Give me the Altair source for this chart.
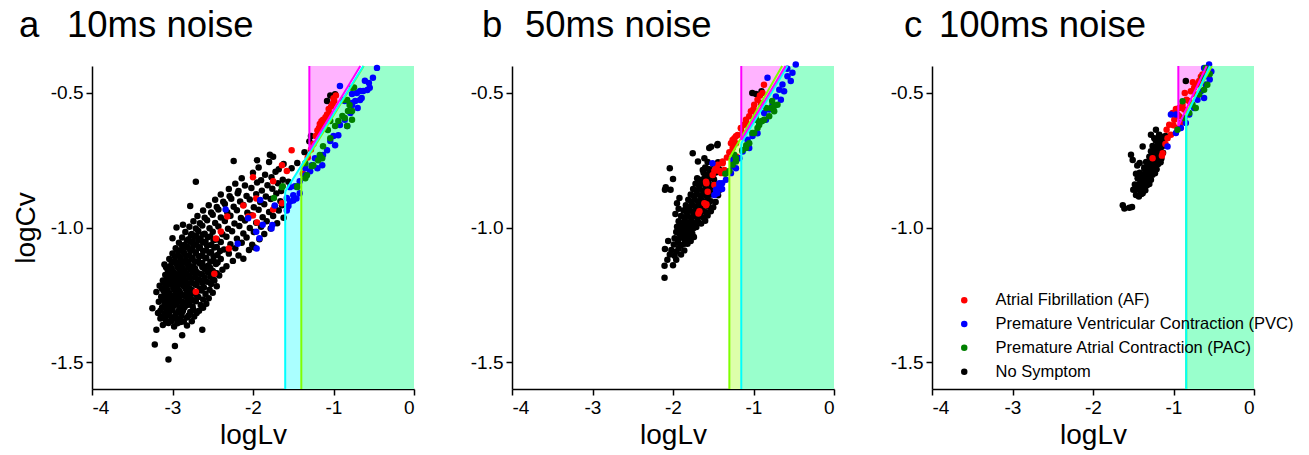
import altair as alt
import pandas as pd

FONT = "Liberation Sans"

CATS = ["Atrial Fibrillation (AF)", "Premature Ventricular Contraction (PVC)",
        "Premature Atrial Contraction (PAC)", "No Symptom"]
CAT_COLORS = ["#ff0000", "#0000ff", "#008000", "#000000"]
CAT_SIZES = [42, 42, 42, 17]
DRAW_ORDER = ["No Symptom", "Atrial Fibrillation (AF)",
              "Premature Ventricular Contraction (PVC)", "Premature Atrial Contraction (PAC)"]

PANEL_LETTERS = ["a", "b", "c"]
PANEL_NAMES = ["10ms noise", "50ms noise", "100ms noise"]
LETTER_DX = [-73, -30, -28]
NAME_DX = [-25, 13, 7]

X_DOMAIN = [-4, 0]
Y_DOMAIN = [-1.6, -0.4]
X_TICKS = [-4, -3, -2, -1, 0]
Y_TICKS = [-1.5, -1.0, -0.5]

# decision boundaries: threshold on logLv, logCv at threshold, slope of diagonal
CYAN_X = [-1.60, -1.152, -0.842]
CYAN_Y = [-0.866, -0.687, -0.586]
CYAN_S = [0.48, 0.50, 0.63]
LIME_X = [-1.40, -1.30, -0.842]
LIME_Y = [-0.780, -0.743, -0.575]
LIME_S = [0.49, 0.523, 0.55]
MAG_X = [-1.30, -1.152, -0.94]
MAG_Y = [-0.713, -0.675, -0.623]
MAG_S = [0.494, 0.50, 0.634]

# ---------------- panel a: 10 ms noise ----------------
A_NS = [
    (-3.12,-1.362),(-3.05,-1.355),(-2.98,-1.368),(-2.9,-1.351),(-2.82,-1.364),
    (-3.15,-1.338),(-3.08,-1.346),(-3.01,-1.333),(-2.93,-1.341),(-2.76,-1.348),
    (-3.18,-1.318),(-3.1,-1.326),(-3.035,-1.312),(-2.96,-1.322),(-2.88,-1.315),(-2.8,-1.327),(-2.7,-1.318),
    (-3.13,-1.297),(-3.065,-1.305),(-2.99,-1.292),(-2.915,-1.302),(-2.85,-1.296),(-2.74,-1.306),(-2.62,-1.298),
    (-3.17,-1.276),(-3.09,-1.284),(-3.02,-1.273),(-2.95,-1.282),(-2.87,-1.277),(-2.79,-1.286),(-2.71,-1.274),(-2.58,-1.283),
    (-3.14,-1.257),(-3.07,-1.264),(-3.0,-1.254),(-2.925,-1.262),(-2.84,-1.255),(-2.77,-1.266),(-2.68,-1.258),(-2.55,-1.263),
    (-3.11,-1.236),(-3.04,-1.244),(-2.97,-1.233),(-2.9,-1.243),(-2.82,-1.237),(-2.73,-1.245),(-2.64,-1.234),(-2.5,-1.242),
    (-3.16,-1.216),(-3.08,-1.224),(-3.01,-1.213),(-2.94,-1.222),(-2.86,-1.217),(-2.79,-1.226),(-2.7,-1.214),(-2.61,-1.223),(-2.45,-1.218),
    (-3.12,-1.197),(-3.05,-1.204),(-2.98,-1.193),(-2.91,-1.203),(-2.84,-1.196),(-2.76,-1.205),(-2.67,-1.194),(-2.57,-1.202),(-2.48,-1.197),
    (-3.09,-1.176),(-3.02,-1.184),(-2.95,-1.174),(-2.88,-1.183),(-2.8,-1.177),(-2.72,-1.185),(-2.63,-1.175),(-2.53,-1.183),(-2.42,-1.178),
    (-3.06,-1.157),(-2.99,-1.164),(-2.92,-1.153),(-2.85,-1.163),(-2.78,-1.156),(-2.7,-1.165),(-2.6,-1.154),(-2.5,-1.162),(-2.38,-1.157),
    (-3.1,-1.137),(-3.03,-1.144),(-2.96,-1.133),(-2.89,-1.143),(-2.82,-1.136),(-2.74,-1.145),(-2.66,-1.134),(-2.56,-1.142),(-2.46,-1.136),(-2.33,-1.144),
    (-3.04,-1.117),(-2.97,-1.124),(-2.9,-1.113),(-2.83,-1.123),(-2.76,-1.116),(-2.68,-1.125),(-2.59,-1.114),(-2.49,-1.122),(-2.4,-1.117),(-2.25,-1.124),(-2.12,-1.116),
    (-3.0,-1.097),(-2.93,-1.104),(-2.86,-1.093),(-2.79,-1.103),(-2.71,-1.096),(-2.63,-1.105),(-2.54,-1.094),(-2.44,-1.102),(-2.3,-1.097),(-2.18,-1.104),
    (-2.96,-1.077),(-2.89,-1.084),(-2.82,-1.073),(-2.75,-1.083),(-2.67,-1.076),(-2.58,-1.085),(-2.48,-1.074),(-2.36,-1.082),(-2.22,-1.077),(-2.05,-1.084),(-1.98,-1.074),
    (-2.92,-1.057),(-2.85,-1.064),(-2.78,-1.053),(-2.7,-1.063),(-2.62,-1.056),(-2.52,-1.065),(-2.4,-1.054),(-2.28,-1.062),(-2.14,-1.057),(-2.01,-1.064),
    (-2.88,-1.037),(-2.8,-1.044),(-2.73,-1.033),(-2.65,-1.043),(-2.56,-1.036),(-2.45,-1.045),(-2.33,-1.034),(-2.2,-1.042),(-2.08,-1.037),(-1.92,-1.044),
    (-2.84,-1.017),(-2.76,-1.024),(-2.68,-1.013),(-2.6,-1.023),(-2.5,-1.016),(-2.38,-1.025),(-2.26,-1.014),(-2.12,-1.022),(-1.99,-1.017),(-1.86,-1.024),
    (-2.79,-0.997),(-2.71,-1.004),(-2.63,-0.993),(-2.54,-1.003),(-2.43,-0.996),(-2.31,-1.005),(-2.17,-0.994),(-2.04,-1.002),(-1.9,-0.997),(-1.78,-1.004),
    (-2.74,-0.977),(-2.66,-0.984),(-2.57,-0.973),(-2.47,-0.983),(-2.35,-0.976),(-2.23,-0.985),(-2.1,-0.974),(-1.96,-0.982),(-1.83,-0.977),(-1.7,-0.984),
    (-2.69,-0.957),(-2.6,-0.964),(-2.5,-0.953),(-2.4,-0.963),(-2.28,-0.956),(-2.15,-0.965),(-2.02,-0.954),(-1.88,-0.962),(-1.75,-0.957),(-1.62,-0.964),
    (-2.62,-0.937),(-2.52,-0.944),(-2.43,-0.933),(-2.32,-0.943),(-2.2,-0.936),(-2.07,-0.945),(-1.93,-0.934),(-1.8,-0.942),(-1.68,-0.937),
    (-2.55,-0.917),(-2.45,-0.924),(-2.35,-0.913),(-2.24,-0.923),(-2.12,-0.916),(-1.99,-0.925),(-1.86,-0.914),(-1.73,-0.922),(-1.64,-0.917),
    (-2.47,-0.897),(-2.37,-0.904),(-2.27,-0.893),(-2.16,-0.903),(-2.04,-0.896),(-1.91,-0.905),(-1.78,-0.894),(-1.66,-0.902),
    (-2.4,-0.877),(-2.29,-0.884),(-2.19,-0.873),(-2.08,-0.883),(-1.96,-0.876),(-1.84,-0.885),(-1.71,-0.874),
    (-2.3,-0.857),(-2.18,-0.864),(-2.02,-0.853),(-1.89,-0.863),(-1.76,-0.856),(-1.65,-0.864),
    (-2.22,-0.837),(-2.1,-0.844),(-1.95,-0.833),(-1.82,-0.843),(-1.69,-0.836),
    (-2.14,-0.817),(-1.9,-0.824),(-1.77,-0.813),(-1.63,-0.823),
    (-2.0,-0.797),(-1.85,-0.804),(-1.72,-0.793),
    (-1.93,-0.777),(-1.68,-0.784),(-1.8,-0.757),(-1.62,-0.764),(-1.75,-0.737),
    (-3.22,-1.435),(-3.05,-1.49),(-2.97,-1.44),(-2.88,-1.40),(-2.63,-1.38),(-3.2,-1.38),
    (-2.71,-0.83),(-2.24,-0.753),(-2.78,-0.92),(-2.87,-0.99),(-1.79,-0.73),(-1.95,-0.75),
    (-1.08,-0.53),(-1.04,-0.51),(-0.98,-0.505),(-1.28,-0.66),(-1.3,-0.68),(-1.36,-0.72),
    (-1.45,-0.76),(-1.52,-0.78),(-1.56,-0.83),(-3.25,-1.3),(-3.2,-1.24),(-3.0,-1.04),(-2.95,-1.0),
    (-3.08,-1.352),(-3.01,-1.347),(-2.94,-1.356),(-2.86,-1.349),
    (-3.13,-1.331),(-3.05,-1.327),(-2.97,-1.336),(-2.89,-1.329),(-2.82,-1.334),(-2.73,-1.331),
    (-3.15,-1.309),(-3.08,-1.314),(-3.0,-1.306),(-2.93,-1.313),(-2.87,-1.308),(-2.78,-1.314),(-2.67,-1.309),
    (-3.1,-1.289),(-3.04,-1.293),(-2.97,-1.287),(-2.89,-1.294),(-2.82,-1.288),(-2.75,-1.293),(-2.65,-1.288),
    (-3.12,-1.268),(-3.05,-1.272),(-2.98,-1.266),(-2.9,-1.273),(-2.81,-1.268),(-2.73,-1.271),(-2.62,-1.267),
    (-3.09,-1.248),(-3.02,-1.253),(-2.95,-1.246),(-2.87,-1.252),(-2.78,-1.249),(-2.7,-1.252),(-2.59,-1.247),
    (-3.13,-1.228),(-3.06,-1.232),(-2.99,-1.226),(-2.92,-1.233),(-2.84,-1.227),(-2.76,-1.232),(-2.66,-1.228),(-2.54,-1.231),
    (-3.1,-1.207),(-3.03,-1.211),(-2.96,-1.206),(-2.88,-1.212),(-2.81,-1.207),(-2.72,-1.211),(-2.63,-1.206),(-2.52,-1.21),
    (-3.07,-1.188),(-3.0,-1.192),(-2.93,-1.186),(-2.86,-1.193),(-2.78,-1.187),(-2.69,-1.192),(-2.6,-1.187),(-2.5,-1.19),
    (-3.04,-1.168),(-2.97,-1.172),(-2.9,-1.166),(-2.83,-1.173),(-2.75,-1.167),(-2.66,-1.172),(-2.56,-1.167),(-2.45,-1.17),
    (-3.08,-1.148),(-3.01,-1.152),(-2.94,-1.146),(-2.87,-1.153),(-2.8,-1.147),(-2.72,-1.152),(-2.63,-1.147),(-2.53,-1.15),
    (-3.01,-1.128),(-2.94,-1.132),(-2.87,-1.126),(-2.8,-1.133),(-2.72,-1.127),(-2.63,-1.132),(-2.53,-1.127),(-2.44,-1.13),
    (-2.97,-1.108),(-2.9,-1.112),(-2.83,-1.106),(-2.75,-1.113),(-2.67,-1.107),(-2.58,-1.112),(-2.49,-1.107),
    (-2.93,-1.088),(-2.86,-1.092),(-2.78,-1.086),(-2.71,-1.093),(-2.62,-1.087),(-2.52,-1.092),(-2.41,-1.087),
    (-2.88,-1.068),(-2.81,-1.072),(-2.74,-1.066),(-2.66,-1.073),(-2.57,-1.067),(-2.45,-1.072),
    (-2.82,-1.048),(-2.75,-1.052),(-2.68,-1.046),(-2.59,-1.053),(-2.49,-1.047),
    (-2.77,-1.028),(-2.7,-1.032),(-2.62,-1.026),(-2.53,-1.033),
]
A_AF = [
    (-2.0,-0.813),(-1.75,-0.828),(-1.64,-0.769),(-1.52,-0.713),(-1.96,-0.892),(-2.12,-0.918),
    (-2.32,-0.959),(-2.06,-0.959),(-2.0,-0.955),(-1.95,-0.981),(-2.40,-1.015),(-2.46,-1.041),
    (-2.30,-1.078),(-2.48,-1.172),(-2.71,-1.239),(-1.75,-0.933),(-1.64,-0.91),(-1.38,-0.80),
    (-1.32,-0.74),(-1.58,-0.79),
    (-1.22,-0.66),(-1.20,-0.64),(-1.18,-0.63),(-1.17,-0.615),(-1.15,-0.605),(-1.13,-0.60),
    (-1.12,-0.62),(-1.10,-0.59),(-1.08,-0.58),(-1.06,-0.56),(-1.05,-0.575),(-1.03,-0.55),
    (-1.01,-0.54),(-1.0,-0.52),(-1.15,-0.63),(-1.19,-0.65),(-1.10,-0.61),(-1.07,-0.595),
    (-0.97,-0.51),(-0.99,-0.53),(-1.25,-0.69),(-1.28,-0.71),
]
A_PVC = [
    (-0.92,-0.474),(-0.77,-0.504),(-0.73,-0.53),(-0.67,-0.493),(-0.61,-0.455),(-0.56,-0.463),
    (-0.58,-0.489),(-0.65,-0.519),(-0.46,-0.407),(-0.70,-0.556),(-0.79,-0.575),(-0.77,-0.537),
    (-0.86,-0.60),(-0.83,-0.623),(-0.92,-0.619),(-0.94,-0.657),(-1.0,-0.66),(-1.04,-0.679),
    (-0.98,-0.694),(-1.08,-0.713),(-1.13,-0.731),(-1.17,-0.743),(-1.23,-0.743),(-1.27,-0.769),
    (-1.29,-0.791),(-1.35,-0.806),(-1.42,-0.828),(-1.48,-0.847),(-1.50,-0.88),(-1.42,-0.873),
    (-1.54,-0.903),(-1.58,-0.937),(-1.35,-0.78),(-1.20,-0.78),(-1.14,-0.769),(-0.86,-0.53),
    (-0.51,-0.444),(-0.55,-0.481),(-0.63,-0.493),(-0.71,-0.50),(-0.67,-0.526),(-0.77,-0.545),
    (-2.34,-0.933),(-2.19,-1.06),(-1.91,-0.898),(-1.96,-1.016),(-1.955,-1.078),(-1.92,-1.04),
    (-1.88,-0.99),(-1.77,-1.004),(-1.76,-0.991),(-2.06,-0.966),(-1.73,-0.918),(-1.58,-0.89),
    (-1.56,-0.92),(-1.50,-0.90),(-1.46,-0.892),(-1.54,-0.85),
]
A_PAC = [
    (-0.77,-0.481),(-0.88,-0.526),(-0.80,-0.545),(-0.82,-0.567),(-0.89,-0.586),(-0.94,-0.604),
    (-0.86,-0.593),(-0.98,-0.623),(-1.07,-0.638),(-1.04,-0.668),(-1.13,-0.698),(-1.17,-0.731),
    (-1.14,-0.743),(-1.25,-0.769),(-1.27,-0.772),(-1.35,-0.761),(-1.33,-0.806),(-1.45,-0.847),
    (-1.63,-0.847),(-1.04,-0.604),(-0.77,-0.60),(-0.83,-0.623),(-1.74,-0.89),(-1.64,-0.85),
    (-1.45,-0.85),(-1.35,-0.817),(-1.19,-0.75),(-0.745,-0.48),(-0.83,-0.526),(-0.77,-0.567),
]

# ---------------- panel b: 50 ms noise ----------------
B_NS = [
    (-2.04,-1.10),(-2.07,-1.12),(-1.98,-1.105),
    (-2.02,-1.084),(-1.96,-1.09),(-1.93,-1.078),
    (-2.06,-1.05),(-1.99,-1.063),(-1.94,-1.057),(-1.9,-1.066),(-1.86,-1.06),
    (-1.98,-1.04),(-1.93,-1.044),(-1.89,-1.037),(-1.85,-1.045),(-1.81,-1.038),
    (-1.96,-1.017),(-1.92,-1.024),(-1.88,-1.016),(-1.84,-1.025),(-1.8,-1.018),(-1.76,-1.023),
    (-1.95,-0.997),(-1.91,-1.004),(-1.87,-0.996),(-1.83,-1.003),(-1.79,-0.995),(-1.75,-1.004),(-1.71,-0.998),
    (-1.93,-0.977),(-1.89,-0.984),(-1.85,-0.976),(-1.81,-0.983),(-1.77,-0.975),(-1.73,-0.984),(-1.69,-0.978),
    (-1.9,-0.957),(-1.86,-0.964),(-1.82,-0.956),(-1.78,-0.963),(-1.74,-0.955),(-1.7,-0.964),(-1.66,-0.958),(-1.62,-0.963),
    (-1.87,-0.937),(-1.83,-0.944),(-1.79,-0.936),(-1.75,-0.943),(-1.71,-0.935),(-1.67,-0.944),(-1.63,-0.938),(-1.59,-0.943),
    (-1.84,-0.917),(-1.8,-0.924),(-1.76,-0.916),(-1.72,-0.923),(-1.68,-0.915),(-1.64,-0.924),(-1.6,-0.918),(-1.56,-0.922),
    (-1.81,-0.897),(-1.77,-0.904),(-1.73,-0.896),(-1.69,-0.903),(-1.65,-0.895),(-1.61,-0.904),(-1.57,-0.898),(-1.53,-0.902),
    (-1.78,-0.877),(-1.74,-0.884),(-1.7,-0.876),(-1.66,-0.883),(-1.62,-0.875),(-1.58,-0.884),(-1.54,-0.878),
    (-1.75,-0.857),(-1.71,-0.864),(-1.67,-0.856),(-1.63,-0.863),(-1.59,-0.855),(-1.55,-0.864),(-1.51,-0.858),
    (-1.72,-0.837),(-1.68,-0.844),(-1.64,-0.836),(-1.6,-0.843),(-1.56,-0.835),(-1.52,-0.844),
    (-1.7,-0.817),(-1.65,-0.824),(-1.61,-0.816),(-1.57,-0.823),(-1.53,-0.815),(-1.49,-0.822),
    (-1.62,-0.797),(-1.58,-0.804),(-1.54,-0.796),(-1.5,-0.803),(-1.46,-0.795),
    (-1.6,-0.777),(-1.55,-0.784),(-1.47,-0.776),(-1.43,-0.783),
    (-1.57,-0.757),(-1.5,-0.764),(-1.44,-0.758),
    (-1.65,-0.985),(-1.6,-0.975),(-1.57,-0.955),(-1.53,-0.94),(-1.5,-0.925),(-1.47,-0.905),
    (-1.44,-0.88),(-1.42,-0.86),(-1.48,-0.87),(-1.45,-0.84),(-1.82,-1.06),(-1.78,-1.05),
    (-1.74,-1.035),(-1.86,-1.085),(-1.9,-1.1),
    (-2.105,-1.187),(-2.105,-1.142),(-2.1,-1.08),(-2.1,-0.86),(-2.09,-0.85),(-2.04,-0.78),
    (-2.03,-0.86),(-2.0,-0.82),(-1.755,-0.724),(-1.69,-0.755),(-1.527,-0.70),(-1.445,-0.69),
    (-1.63,-0.786),(-1.67,-0.823),(-1.92,-0.89),(-1.84,-0.93),(-1.93,-0.93),(-1.015,-0.50),
    (-0.90,-0.494),(-0.97,-0.504),(-1.55,-0.705),(-1.45,-0.694),(-1.61,-0.743),(-1.585,-0.78),
    (-2.0,-1.14),(-1.96,-1.12),(-1.97,-0.95),(-1.95,-0.91),
]
B_AF = [
    (-0.888,-0.50),(-0.95,-0.525),(-0.908,-0.537),(-0.991,-0.544),(-1.032,-0.568),(-0.97,-0.58),
    (-1.094,-0.60),(-1.053,-0.587),(-1.115,-0.618),(-1.156,-0.631),(-1.135,-0.649),
    (-1.197,-0.656),(-1.238,-0.668),(-1.28,-0.687),(-1.218,-0.687),(-1.259,-0.705),(-1.383,-0.761),
    (-1.466,-0.78),(-1.424,-0.79),(-1.507,-0.805),(-1.362,-0.786),(-1.486,-0.842),(-1.59,-0.83),
    (-1.569,-0.867),(-1.61,-0.91),(-1.672,-0.94),(-1.218,-0.736),(-1.486,-0.79),(-1.445,-0.767),
    (-1.383,-0.755),(-1.40,-0.798),(-1.26,-0.686),(-1.218,-0.661),(-1.156,-0.63),(-1.094,-0.608),
    (-1.59,-0.917),(-1.684,-0.948),(-1.585,-0.914),(-1.585,-0.836),(-1.46,-0.772),(-1.20,-0.74),
    (-1.26,-0.675),(-0.87,-0.47),(-0.92,-0.51),(-1.0,-0.56),(-1.3,-0.72),(-1.33,-0.74),
]
B_PVC = [
    (-0.475,-0.394),(-0.516,-0.425),(-0.578,-0.438),(-0.537,-0.456),(-0.64,-0.469),(-0.68,-0.488),
    (-0.62,-0.494),(-0.722,-0.513),(-0.66,-0.525),(-0.826,-0.444),(-0.764,-0.544),(-0.805,-0.562),
    (-0.867,-0.575),(-0.846,-0.60),(-0.929,-0.612),(-0.95,-0.65),(-1.012,-0.66),(-1.074,-0.674),
    (-1.053,-0.705),(-1.135,-0.718),(-1.176,-0.743),(-1.218,-0.78),(-1.259,-0.749),(-1.466,-0.873),
    (-1.424,-0.848),(-1.51,-0.761),(-1.466,-0.86),(-1.424,-0.836),(-1.486,-0.879),(-1.39,-0.857),
    (-1.342,-0.823),(-1.28,-0.798),(-1.26,-0.773),(-1.39,-0.836),(-1.45,-0.873),(-0.58,-0.41),
]
B_PAC = [
    (-0.702,-0.544),(-0.784,-0.556),(-0.743,-0.568),(-0.805,-0.587),(-0.867,-0.60),(-0.908,-0.606),
    (-0.95,-0.63),(-0.991,-0.649),(-1.053,-0.687),(-1.094,-0.705),(-1.259,-0.767),(-1.218,-0.743),
    (-0.768,-0.53),(-0.743,-0.549),(-0.842,-0.556),(-0.966,-0.60),(-0.892,-0.604),(-0.93,-0.619),
    (-1.015,-0.649),(-1.14,-0.713),(-1.09,-0.694),(-1.218,-0.755),(-1.24,-0.73),(-1.35,-0.80),
    (-1.30,-0.79),
]

# ---------------- panel c: 100 ms noise ----------------
C_NS = [
    (-1.466,-0.879),(-1.43,-0.885),(-1.40,-0.876),
    (-1.45,-0.857),(-1.41,-0.863),(-1.38,-0.856),(-1.35,-0.862),
    (-1.42,-0.837),(-1.39,-0.844),(-1.36,-0.836),(-1.33,-0.843),(-1.3,-0.838),
    (-1.44,-0.817),(-1.4,-0.823),(-1.37,-0.816),(-1.34,-0.824),(-1.31,-0.818),(-1.28,-0.823),
    (-1.42,-0.797),(-1.38,-0.804),(-1.35,-0.796),(-1.32,-0.803),(-1.29,-0.797),(-1.26,-0.804),(-1.23,-0.798),
    (-1.36,-0.777),(-1.33,-0.784),(-1.3,-0.776),(-1.27,-0.783),(-1.24,-0.777),(-1.21,-0.784),
    (-1.34,-0.757),(-1.31,-0.764),(-1.28,-0.756),(-1.25,-0.763),(-1.22,-0.757),(-1.19,-0.764),(-1.16,-0.758),
    (-1.3,-0.737),(-1.27,-0.744),(-1.24,-0.736),(-1.21,-0.743),(-1.18,-0.737),(-1.15,-0.744),
    (-1.28,-0.717),(-1.25,-0.724),(-1.22,-0.716),(-1.19,-0.723),(-1.16,-0.717),(-1.13,-0.722),
    (-1.26,-0.697),(-1.23,-0.704),(-1.2,-0.696),(-1.17,-0.703),(-1.14,-0.698),
    (-1.22,-0.677),(-1.19,-0.684),(-1.16,-0.676),(-1.12,-0.683),
    (-1.18,-0.657),(-1.14,-0.664),(-1.1,-0.66),
    (-1.63,-0.917),(-1.61,-0.929),(-1.548,-0.927),(-1.515,-0.924),(-1.528,-0.73),(-1.507,-0.749),
    (-1.383,-0.699),(-1.28,-0.655),(-1.218,-0.637),(-1.239,-0.668),(-1.177,-0.655),(-1.466,-0.80),
    (-1.445,-0.817),(-1.404,-0.848),(-1.383,-0.873),(-1.363,-0.78),(-0.847,-0.456),(-1.45,-0.77),
    (-1.42,-0.76),(-1.48,-0.84),(-1.5,-0.86),
]
C_AF = [
    (-1.26,-0.743),(-1.144,-0.733),(-1.135,-0.724),(-1.074,-0.668),(-1.032,-0.655),(-1.086,-0.637),
    (-1.053,-0.618),(-1.012,-0.575),(-0.929,-0.556),(-0.929,-0.587),(-0.95,-0.63),(-0.888,-0.544),
    (-0.838,-0.525),(-0.785,-0.494),(-0.743,-0.481),(-0.702,-0.469),(-0.681,-0.456),(-0.64,-0.432),
    (-0.723,-0.506),(-0.805,-0.531),(-0.867,-0.562),(-0.908,-0.612),(-0.99,-0.60),(-1.1,-0.69),
    (-0.97,-0.56),(-0.86,-0.50),(-0.76,-0.46),(-0.66,-0.44),(-0.6,-0.415),(-1.0,-0.62),(-0.95,-0.58),
]
C_PVC = [
    (-1.074,-0.699),(-1.032,-0.58),(-0.97,-0.58),(-0.743,-0.556),(-0.702,-0.525),(-0.60,-0.469),
    (-0.66,-0.494),(-0.578,-0.438),(-0.62,-0.407),(-0.558,-0.394),(-0.805,-0.58),(-0.847,-0.612),
    (-0.908,-0.63),(-0.97,-0.649),(-0.62,-0.519),(-0.53,-0.42),(-0.55,-0.45),
]
C_PAC = [
    (-0.888,-0.531),(-0.805,-0.575),(-0.764,-0.544),(-0.681,-0.506),(-0.62,-0.488),(-0.6,-0.407),
    (-0.95,-0.637),(-0.867,-0.593),(-0.64,-0.444),(-0.723,-0.556),(-0.58,-0.47),(-0.55,-0.43),
]

PANEL_POINTS = [
    {"Atrial Fibrillation (AF)": A_AF, "Premature Ventricular Contraction (PVC)": A_PVC,
     "Premature Atrial Contraction (PAC)": A_PAC, "No Symptom": A_NS},
    {"Atrial Fibrillation (AF)": B_AF, "Premature Ventricular Contraction (PVC)": B_PVC,
     "Premature Atrial Contraction (PAC)": B_PAC, "No Symptom": B_NS},
    {"Atrial Fibrillation (AF)": C_AF, "Premature Ventricular Contraction (PVC)": C_PVC,
     "Premature Atrial Contraction (PAC)": C_PAC, "No Symptom": C_NS},
]

CYAN_FILL = "#aaffff"
LIME_FILL = "#ddffaa"
MINT_FILL = "#99ffcc"
PINK_FILL = "#ffb3ff"
CYAN_LINE = "#00ffff"
LIME_LINE = "#80ff00"
MAG_LINE = "#ff00ff"

Y_BOT, Y_TOP = Y_DOMAIN
X_RIGHT = X_DOMAIN[1]

MINUS = "\u2212"
X_LABELS = "replace(format(datum.value, 'd'), '" + MINUS + "', '-')"
Y_LABELS = "replace(format(datum.value, '.1f'), '" + MINUS + "', '-')"


def top_x(t, y0, s):
    return t + (Y_TOP - y0) / s


def below_rows(t, y0, s):
    xt = top_x(t, y0, s)
    return [dict(x=t, y=Y_BOT, y2=y0), dict(x=xt, y=Y_BOT, y2=Y_TOP),
            dict(x=X_RIGHT, y=Y_BOT, y2=Y_TOP)]


def above_rows(t, y0, s):
    xt = top_x(t, y0, s)
    return [dict(x=t, y=y0, y2=Y_TOP), dict(x=xt, y=Y_TOP, y2=Y_TOP)]


LEG = alt.Legend(title=None, orient="none", legendX=864, legendY=226,
                 labelFont=FONT, labelFontSize=16.5, labelColor="black",
                 symbolType="circle", symbolStrokeWidth=0, symbolOpacity=1,
                 rowPadding=6.8, labelOffset=23, labelLimit=400)


def make_panel(i):
    xs = alt.Scale(domain=X_DOMAIN, nice=False, zero=False)
    ys = alt.Scale(domain=Y_DOMAIN, nice=False, zero=False)
    xa = alt.Axis(values=X_TICKS, title="logLv", labelExpr=X_LABELS)
    if i == 0:
        ya = alt.Axis(values=Y_TICKS, title="logCv", labelExpr=Y_LABELS)
    else:
        ya = alt.Axis(values=Y_TICKS, title=None, labelExpr=Y_LABELS)

    def X(f):
        return alt.X(f, type="quantitative", scale=xs, axis=xa)

    def Y(f):
        return alt.Y(f, type="quantitative", scale=ys, axis=ya)

    layers = []
    lower = [(CYAN_X[i], CYAN_Y[i], CYAN_S[i], CYAN_FILL),
             (LIME_X[i], LIME_Y[i], LIME_S[i], LIME_FILL)]
    lower.sort(key=lambda r: r[0])
    fills = [lower[0][3], MINT_FILL]
    for (t, y0, s, _), fill in zip(lower, fills):
        layers.append(
            alt.Chart(pd.DataFrame(below_rows(t, y0, s)))
            .mark_area(color=fill, opacity=1, strokeWidth=0)
            .encode(x=X("x"), y=Y("y"), y2="y2")
        )
    layers.append(
        alt.Chart(pd.DataFrame(above_rows(MAG_X[i], MAG_Y[i], MAG_S[i])))
        .mark_area(color=PINK_FILL, opacity=1, strokeWidth=0)
        .encode(x=X("x"), y=Y("y"), y2="y2")
    )

    rows = []
    for k, cat in enumerate(DRAW_ORDER):
        for (px, py) in PANEL_POINTS[i][cat]:
            rows.append(dict(x=px, y=py, cat=cat, order=k))
    pts = pd.DataFrame(rows)
    layers.append(
        alt.Chart(pts).mark_circle(opacity=1, strokeWidth=0).encode(
            x=X("x"), y=Y("y"),
            color=alt.Color("cat:N", scale=alt.Scale(domain=CATS, range=CAT_COLORS), legend=LEG),
            size=alt.Size("cat:N", scale=alt.Scale(domain=CATS, range=CAT_SIZES), legend=LEG),
            order=alt.Order("order:Q"),
        )
    )

    segs = []
    for (t, y0, s, col) in [(LIME_X[i], LIME_Y[i], LIME_S[i], LIME_LINE),
                            (CYAN_X[i], CYAN_Y[i], CYAN_S[i], CYAN_LINE)]:
        segs.append(dict(x=t, x2=t, y=Y_BOT, y2=y0, c=col))
        segs.append(dict(x=t, x2=top_x(t, y0, s), y=y0, y2=Y_TOP, c=col))
    t, y0, s = MAG_X[i], MAG_Y[i], MAG_S[i]
    segs.append(dict(x=t, x2=t, y=y0, y2=Y_TOP, c=MAG_LINE))
    segs.append(dict(x=t, x2=top_x(t, y0, s), y=y0, y2=Y_TOP, c=MAG_LINE))
    layers.append(
        alt.Chart(pd.DataFrame(segs)).mark_rule(strokeWidth=2).encode(
            x=X("x"), x2="x2", y=Y("y"), y2="y2",
            color=alt.Color("c:N", scale=None),
        )
    )

    # panel heading (letter and name) as text marks above the plot area
    head = pd.DataFrame([{"t": PANEL_LETTERS[i], "n": PANEL_NAMES[i]}])
    txt = dict(align="left", baseline="alphabetic", fontSize=36.5, font=FONT, color="black")
    layers.append(
        alt.Chart(head).mark_text(**txt)
        .encode(text="t:N", x=alt.value(LETTER_DX[i]), y=alt.value(-29))
    )
    layers.append(
        alt.Chart(head).mark_text(**txt)
        .encode(text="n:N", x=alt.value(NAME_DX[i]), y=alt.value(-29))
    )
    return alt.layer(*layers).properties(width=322, height=323)


chart = (
    alt.hconcat(*[make_panel(i) for i in range(3)], spacing=98, bounds="flush")
    .properties(padding={"left": 12, "top": 8, "right": 5, "bottom": 5})
    .configure_view(stroke=None)
    .configure_axis(
        grid=False, domainColor="black", domainWidth=1.5, tickColor="black",
        tickWidth=1.5, tickSize=6, labelFont=FONT, labelFontSize=19, labelColor="black",
        labelPadding=3, titleFont=FONT, titleFontSize=28, titleFontWeight="normal",
        titleColor="black",
    )
    .configure_axisX(titlePadding=4)
    .configure_axisY(titlePadding=10)
)

chart.save("out.html", embed_options={"renderer": "svg", "actions": False})
